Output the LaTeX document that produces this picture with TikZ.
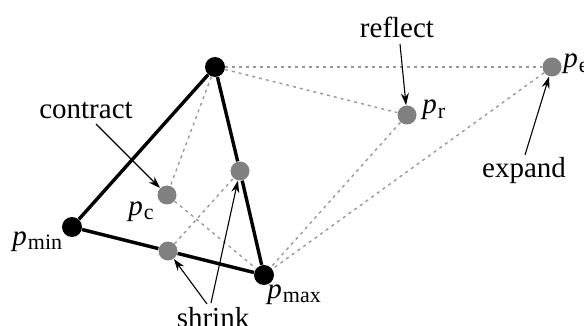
\documentclass[tikz,border=0pt]{standalone}
\usepackage{fontspec}
\setmainfont{Liberation Serif}
\usetikzlibrary{arrows.meta}
\newcommand{\pp}[1]{\textit{p}\kern0.5pt\raisebox{-0.35ex}{\fontsize{11pt}{12pt}\selectfont #1}}
\begin{document}
\begin{tikzpicture}[x=0.5pt,y=-0.5pt,
  font=\fontsize{14.5pt}{16pt}\selectfont,
  bdot/.style={circle,fill=black,minimum size=10pt,inner sep=0pt},
  gdot/.style={circle,fill=black!50,minimum size=9.5pt,inner sep=0pt},
  thick edge/.style={line width=1.7pt,black},
  dotline/.style={line width=0.7pt,black!40,dash pattern=on 1.5pt off 2pt},
  ann/.style={line width=0.55pt,-{Stealth[length=6pt,width=4pt]}},
  lbl/.style={inner sep=0pt}]
\useasboundingbox (0,0) rectangle (584,326);
% points
\node[bdot] (T) at (215,67) {};
\node[bdot] (pmin) at (72,227) {};
\node[bdot] (pmax) at (264,275) {};
\node[gdot] (pc) at (167,195) {};
\node[gdot] (s1) at (240,171) {};
\node[gdot] (s2) at (168,251) {};
\node[gdot] (pr) at (407,115) {};
\node[gdot] (pe) at (552,67) {};
% dotted lines
\draw[dotline] (T) -- (pe);
\draw[dotline] (T) -- (pr);
\draw[dotline] (pr) -- (pmax);
\draw[dotline] (pe) -- (pmax);
\draw[dotline] (T) -- (pc);
\draw[dotline] (pc) -- (pmax);
\draw[dotline] (s2) -- (s1);
% thick lines
\draw[thick edge] (T) -- (pmin);
\draw[thick edge] (T) -- (s1);
\draw[thick edge] (s1) -- (pmax);
\draw[thick edge] (pmin) -- (s2);
\draw[thick edge] (s2) -- (pmax);
% point labels
\node[lbl,anchor=base west] (lmin) at (12,245) {\pp{min}};
\node[lbl,anchor=base west] (lmax) at (267,298) {\pp{max}};
\node[lbl,anchor=base west] (lc) at (128,215) {\pp{c}};
\node[lbl,anchor=base west] (lr) at (422,114) {\pp{r}};
\node[lbl,anchor=base west] (le) at (563,68) {\pp{e}};
% annotations
\node[lbl] (reflect) at (397,27) {reflect};
\node[lbl] (expand) at (524,171) {expand};
\node[lbl] (contract) at (86,110) {contract};
\node[lbl] (shrink) at (213,318) {shrink};
\coordinate (rA) at (400,44);
\coordinate (eA) at (525,155);
\coordinate (cA) at (96,124);
\coordinate (sA) at (207,304);
\coordinate (sB) at (211,303);
\draw[ann] (rA) -- (pr);
\draw[ann] (eA) -- (pe);
\draw[ann] (cA) -- (pc);
\draw[ann] (sA) -- (s2);
\draw[ann] (sB) -- (s1);
\end{tikzpicture}
\end{document}
